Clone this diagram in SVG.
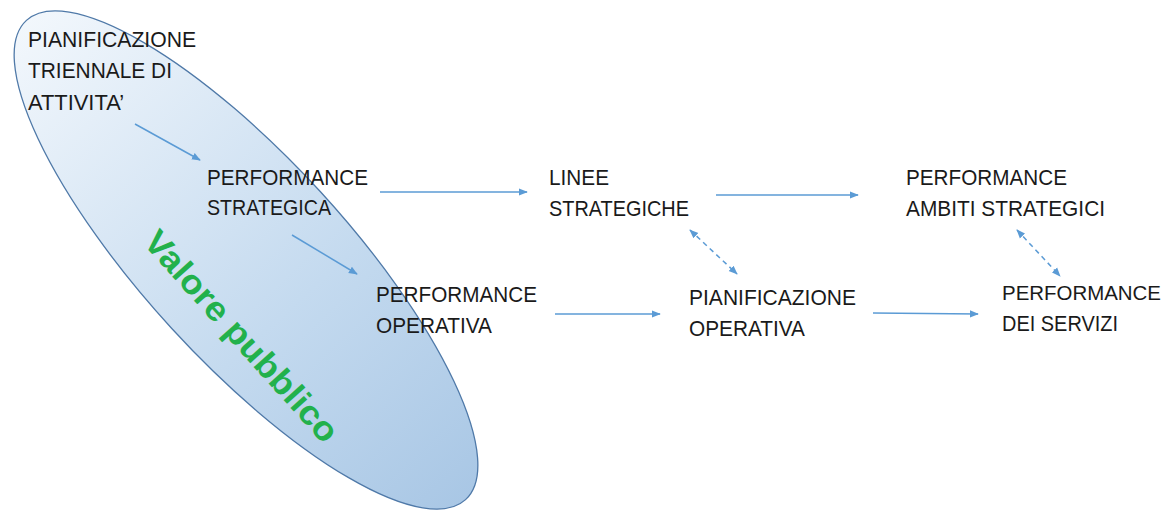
<svg xmlns="http://www.w3.org/2000/svg" width="1168" height="513" viewBox="0 0 1168 513">
<defs>
<linearGradient id="g" x1="0" y1="0" x2="1" y2="0" gradientUnits="objectBoundingBox">
<stop offset="0" stop-color="#f2f7fc"/>
<stop offset="0.6" stop-color="#c4daef"/>
<stop offset="1" stop-color="#a9c7e5"/>
</linearGradient>
<marker id="ah" viewBox="0 0 10 10" refX="9" refY="5" markerWidth="9" markerHeight="9" markerUnits="userSpaceOnUse" orient="auto-start-reverse">
<path d="M0,1 L10,5 L0,9 z" fill="#5b9bd5"/>
</marker>
</defs>
<style>
.t{font-family:"Liberation Sans",Arial,sans-serif;font-size:22px;fill:#1a1a1a}
.s{font-size:21px}
.c{stroke:#5b9bd5;stroke-width:1.5;fill:none}
.d{stroke-dasharray:5,4}
</style>
<rect width="1168" height="513" fill="#ffffff"/>
<g id="ellipse">
<g transform="translate(246,260) rotate(47.5)">
<ellipse cx="0" cy="0" rx="325" ry="101" fill="url(#g)" stroke="#4f79a8" stroke-width="1.3"/>
</g>
<text transform="translate(142,243) rotate(48)" font-family="Liberation Sans,Arial,sans-serif" font-weight="bold" font-size="34" fill="#22b14c" textLength="272" lengthAdjust="spacingAndGlyphs">Valore pubblico</text>
</g>
<g id="connectors">
<line class="c" x1="135" y1="124" x2="200" y2="160" marker-end="url(#ah)"/>
<line class="c" x1="292" y1="235" x2="357" y2="274" marker-end="url(#ah)"/>
<line class="c" x1="380" y1="192" x2="527" y2="192" marker-end="url(#ah)"/>
<line class="c" x1="716" y1="195" x2="858" y2="195" marker-end="url(#ah)"/>
<line class="c" x1="555" y1="314" x2="660" y2="314" marker-end="url(#ah)"/>
<line class="c" x1="873" y1="313" x2="978" y2="314" marker-end="url(#ah)"/>
<line class="c d" x1="690" y1="230" x2="737" y2="274" marker-start="url(#ah)" marker-end="url(#ah)"/>
<line class="c d" x1="1017" y1="230" x2="1060" y2="276" marker-start="url(#ah)" marker-end="url(#ah)"/>
</g>
<g id="n1"><text class="t" x="28" y="47" textLength="168" lengthAdjust="spacingAndGlyphs">PIANIFICAZIONE</text><text class="t" x="28" y="78" textLength="144" lengthAdjust="spacingAndGlyphs">TRIENNALE DI</text><text class="t" x="28" y="110" textLength="96" lengthAdjust="spacingAndGlyphs">ATTIVITA’</text></g>
<g id="n2"><text class="t" x="207" y="185" textLength="161" lengthAdjust="spacingAndGlyphs">PERFORMANCE</text><text class="t" x="207" y="215" textLength="124" lengthAdjust="spacingAndGlyphs">STRATEGICA</text></g>
<g id="n3"><text class="t" x="549" y="185" textLength="60" lengthAdjust="spacingAndGlyphs">LINEE</text><text class="t" x="549" y="216" textLength="140" lengthAdjust="spacingAndGlyphs">STRATEGICHE</text></g>
<g id="n4"><text class="t" x="906" y="185" textLength="161" lengthAdjust="spacingAndGlyphs">PERFORMANCE</text><text class="t" x="906" y="216" textLength="199" lengthAdjust="spacingAndGlyphs">AMBITI STRATEGICI</text></g>
<g id="n5"><text class="t" x="376" y="302" textLength="161" lengthAdjust="spacingAndGlyphs">PERFORMANCE</text><text class="t" x="376" y="333" textLength="116" lengthAdjust="spacingAndGlyphs">OPERATIVA</text></g>
<g id="n6"><text class="t" x="689" y="305" textLength="167" lengthAdjust="spacingAndGlyphs">PIANIFICAZIONE</text><text class="t" x="689" y="336" textLength="116" lengthAdjust="spacingAndGlyphs">OPERATIVA</text></g>
<g id="n7"><text class="t s" x="1002" y="300" textLength="159" lengthAdjust="spacingAndGlyphs">PERFORMANCE</text><text class="t" x="1002" y="331" textLength="116" lengthAdjust="spacingAndGlyphs">DEI SERVIZI</text></g>
</svg>
